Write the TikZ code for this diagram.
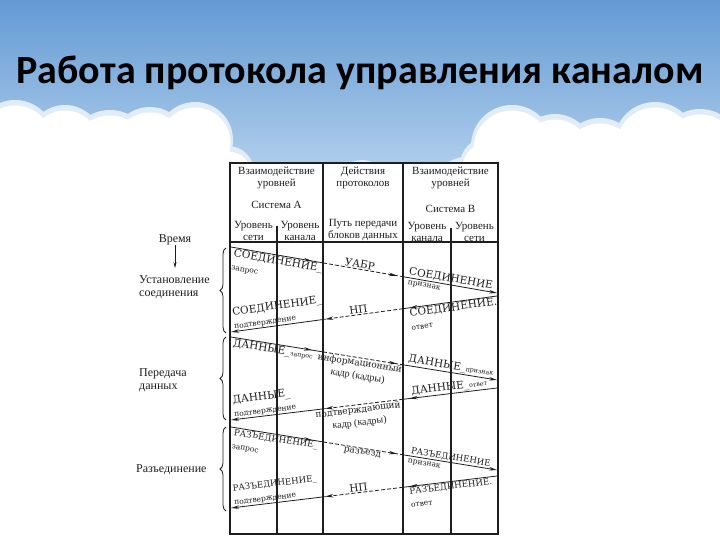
\documentclass[tikz,border=0pt]{standalone}
\usepackage{fontspec}
\setmainfont{Liberation Serif}
\newfontfamily\titlefont{Carlito}
\newfontfamily\lblfont{DejaVu Serif}
\usetikzlibrary{arrows.meta,decorations.markings,decorations.pathreplacing}
\definecolor{skytop}{RGB}{100,154,212}
\definecolor{skybot}{RGB}{190,216,240}
\definecolor{cloudrim}{RGB}{226,236,247}
\definecolor{ink}{RGB}{30,30,30}
\newcommand\lbBig{\lblfont\fontsize{10.5}{11}\selectfont}
\newcommand\lbRz{\lblfont\fontsize{8.6}{11}\selectfont}
\newcommand\lbMid{\lblfont\fontsize{9}{11.5}\selectfont}
\newcommand\lbSm{\lblfont\fontsize{7.5}{11}\selectfont}
\newcommand\lbXs{\lblfont\fontsize{6.3}{11}\selectfont}
\newcommand\hdf{\fontsize{11}{12}\selectfont}
\begin{document}
\begin{tikzpicture}[x=1pt,y=-1pt,
  tbl/.style={line width=1.3pt, draw=ink},
  thk/.style={line width=2.1pt, draw=ink},
  sig/.style={line width=0.8pt, draw=ink},
  dsh/.style={sig, dash pattern=on 4pt off 2pt},
  arrat/.style={postaction={decorate}, decoration={markings, mark=at position #1 with {\arrow{Stealth[length=8pt,width=3.5pt]}}}},
  endarr/.style={-{Stealth[length=8pt,width=3.5pt]}},
  lab/.style={inner sep=1pt, text=ink},
  hd/.style={font=\hdf, align=center, inner sep=0pt, text=ink},
  side/.style={font=\fontsize{12}{13}\selectfont, align=left, inner sep=0pt, text=ink},
  brc/.style={decorate, decoration={brace, amplitude=6pt}, line width=0.8pt, draw=ink}
]
\useasboundingbox (0,0) rectangle (720,540);
% background
\fill[white] (0,0) rectangle (720,540);
\shade[top color=skytop, bottom color=skybot] (0,0) rectangle (720,200);
\def\cloudlist{15/140/40, 65/142/37, 110/152/42, 150/146/39, 195/140/38, 228/172/26,
  260/190/28, 300/195/30, 335/190/25, 362/185/25, 395/192/26, 430/190/26, 465/185/28,
  488/165/28, 512/146/41, 555/152/38, 600/157/39, 655/143/41, 700/150/41, 725/150/36,
  0/200/60, 90/200/60, 180/205/55, 560/200/60, 650/200/60, 720/200/60}
\foreach \cx/\cy/\r in \cloudlist
  \fill[cloudrim] (\cx,\cy) circle[radius=\r];
\foreach \cx/\cy/\r in \cloudlist
  \fill[white] (\cx,\cy+3) circle[radius=\r-2.5];
\fill[white] (0,186) rectangle (720,540);
% title
\node[font=\titlefont\bfseries\fontsize{40}{48}\selectfont, anchor=base, inner sep=0pt] (title) at (360,84) {Работа протокола управления каналом};
% table
\fill[white] (230,163) rectangle (498,534);
\draw[tbl] (230,163) rectangle (498,534);
\draw[thk] (230,242) -- (498,242);
\draw[thk] (323,163) -- (323,534);
\draw[thk] (403,163) -- (403,534);
\draw[thk] (277,226) -- (277,534);
\draw[tbl] (451,228) -- (451,534);
% header
\node[hd] (hA) at (276.5,178) {Взаимодействие\\уровней};
\node[hd] (sA) at (276.5,205) {Система А};
\node[hd] (hA1) at (253.5,231) {Уровень\\сети};
\node[hd] (hA2) at (300,231) {Уровень\\канала};
\node[hd] (hM) at (363,178) {Действия\\протоколов};
\node[hd] (hM2) at (363,230) {Путь передачи\\блоков данных};
\node[hd] (hB) at (450.5,178) {Взаимодействие\\уровней};
\node[hd] (sB) at (450.5,209) {Система В};
\node[hd] (hB1) at (427,232) {Уровень\\канала};
\node[hd] (hB2) at (474.5,232) {Уровень\\сети};
% side labels
\node[side] (vr) at (175,240) {Время};
\node[side, anchor=west] (ust) at (139,287) {Установление\\соединения};
\draw[line width=0.8pt, draw=ink, -{Stealth[length=6pt,width=3pt]}, shorten >=7pt] (vr.south) -- (vr.south |- ust.north);
\node[side, anchor=west] (per) at (139,380) {Передача\\данных};
\node[side, anchor=west] (raz) at (136,470) {Разъединение};
\draw[brc] (226,333) -- (226,248);
\draw[brc] (226,420) -- (226,337);
\draw[brc] (226,511) -- (226,427);
% L1
\coordinate (s1) at (231,247); \coordinate (a1) at (323,262.9); \coordinate (b1) at (403,276.7); \coordinate (e1) at (497,293);
\draw[sig, arrat=0.88] (s1) -- (a1);
\draw[dsh, arrat=0.925] (a1) -- (b1);
\draw[sig, endarr] (b1) -- (e1);
\path (s1) -- node[lab, pos=0.03, sloped, anchor=north west, align=left] (l1a) {\lbBig СОЕДИНЕНИЕ\_\\[1.5pt]\lbSm запрос} (a1);
\path (a1) -- node[lab, pos=0.45, sloped, anchor=south] (l1b) {\lbBig УАБР} (b1);
\path (b1) -- node[lab, pos=0.5, sloped, anchor=south] (l1c) {\lbBig СОЕДИНЕНИЕ} (e1);
\path (b1) -- node[lab, inner ysep=2.5pt, pos=0.05, sloped, anchor=north west] (l1d) {\lbSm признак} (e1);
% L2
\coordinate (e2) at (497,296); \coordinate (b2) at (403,308.7); \coordinate (a2) at (323,319.5); \coordinate (s2) at (231,332);
\draw[sig, arrat=0.93] (e2) -- (b2);
\draw[dsh, arrat=0.97] (b2) -- (a2);
\draw[sig, endarr] (a2) -- (s2);
\path (e2) -- node[lab, pos=0.95, sloped, anchor=north west, align=left] (l2a) {\lbBig СОЕДИНЕНИЕ.\\[1.5pt]\lbSm ответ} (b2);
\path (b2) -- node[lab, pos=0.55, sloped, anchor=south] (l2b) {\lbBig НП} (a2);
\path (a2) -- node[lab, pos=0.97, sloped, anchor=south west, align=left] (l2c) {\lbBig СОЕДИНЕНИЕ\_\\[1.5pt]\lbSm подтверждение} (s2);
% L3
\coordinate (s3) at (231,337); \coordinate (a3) at (323,351.9); \coordinate (b3) at (403,364.8); \coordinate (e3) at (497,380);
\draw[sig, arrat=0.88] (s3) -- (a3);
\draw[dsh, arrat=0.925] (a3) -- (b3);
\draw[sig, endarr] (b3) -- (e3);
\path (s3) -- node[lab, pos=0.02, sloped, anchor=north west] (l3a) {\lbBig ДАННЫЕ\_\lbXs запрос} (a3);
\path (a3) -- node[lab, pos=0.47, sloped, anchor=north, align=center] (l3b) {\lbMid информационный\\[1pt]кадр (кадры)} (b3);
\path (b3) -- node[lab, pos=0.5, sloped, anchor=south] (l3c) {\lbBig ДАННЫЕ\_\lbXs признак} (e3);
% L4
\coordinate (e4) at (497,388); \coordinate (b4) at (403,399.3); \coordinate (a4) at (323,408.9); \coordinate (s4) at (231,420);
\draw[sig, arrat=0.93] (e4) -- (b4);
\draw[dsh, arrat=0.97] (b4) -- (a4);
\draw[sig, endarr] (a4) -- (s4);
\path (e4) -- node[lab, pos=0.5, sloped, anchor=south] (l4a) {\lbBig ДАННЫЕ\_\lbXs ответ} (b4);
\path (b4) -- node[lab, pos=0.57, sloped, anchor=north, align=center] (l4b) {\lbMid подтверждающий\\[1pt]кадр (кадры)} (a4);
\path (a4) -- node[lab, pos=0.97, sloped, anchor=south west, align=left] (l4c) {\lbBig ДАННЫЕ\_\\[1.5pt]\lbSm подтверждение} (s4);
% L5
\coordinate (s5) at (231,427); \coordinate (a5) at (323,441.9); \coordinate (b5) at (403,454.8); \coordinate (e5) at (497,470);
\draw[sig, arrat=0.88] (s5) -- (a5);
\draw[dsh, arrat=0.925] (a5) -- (b5);
\draw[sig, endarr] (b5) -- (e5);
\path (s5) -- node[lab, pos=0.03, sloped, anchor=north west, align=left] (l5a) {\lbRz РАЗЪЕДИНЕНИЕ\_\\[1.5pt]\lbSm запрос} (a5);
\path (a5) -- node[lab, pos=0.5, sloped, anchor=north] (l5b) {\lbMid разъезд} (b5);
\path (b5) -- node[lab, pos=0.5, sloped, anchor=south] (l5c) {\lbRz РАЗЪЕДИНЕНИЕ} (e5);
\path (b5) -- node[lab, inner ysep=3pt, pos=0.05, sloped, anchor=north west] (l5d) {\lbSm признак} (e5);
% L6
\coordinate (e6) at (497,476); \coordinate (b6) at (403,487.3); \coordinate (a6) at (323,496.9); \coordinate (s6) at (231,508);
\draw[sig, arrat=0.93] (e6) -- (b6);
\draw[dsh, arrat=0.97] (b6) -- (a6);
\draw[sig, endarr] (a6) -- (s6);
\path (e6) -- node[lab, pos=0.95, sloped, anchor=north west, align=left] (l6a) {\lbRz РАЗЪЕДИНЕНИЕ.\\[1.5pt]\lbSm ответ} (b6);
\path (b6) -- node[lab, pos=0.55, sloped, anchor=south] (l6b) {\lbBig НП} (a6);
\path (a6) -- node[lab, pos=0.97, sloped, anchor=south west, align=left] (l6c) {\lbRz РАЗЪЕДИНЕНИЕ\_\\[1.5pt]\lbSm подтверждение} (s6);
\end{tikzpicture}
\end{document}
